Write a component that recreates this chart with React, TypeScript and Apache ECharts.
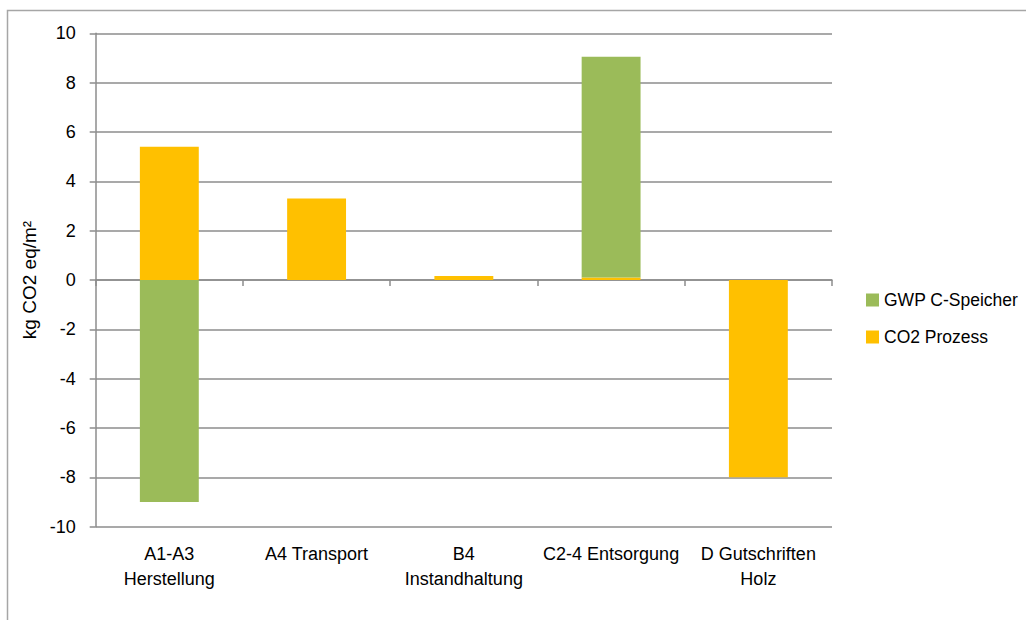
import React, { useEffect, useRef } from "react";
import * as echarts from "echarts";

const categories = [
  "A1-A3\nHerstellung",
  "A4 Transport",
  "B4\nInstandhaltung",
  "C2-4 Entsorgung",
  "D Gutschriften\nHolz",
];
const co2Prozess = [5.4, 3.3, 0.16, 0.1, -8.0];
const gwpCSpeicher = [-9.0, 0, 0, 8.95, 0];
const seriesNames = ["GWP C-Speicher", "CO2 Prozess"];
const yMin = -10;
const yMax = 10;
const yInterval = 2;

const FONT = "'Liberation Sans', Arial, sans-serif";
const GRID_COLOR = "#8c8c8c";

export default function App() {
  const ref = useRef<HTMLDivElement>(null);
  useEffect(() => {
    document.body.style.margin = "0";
    if (!ref.current) return;
    const chart = echarts.init(ref.current, null, { renderer: "svg" });
    chart.setOption({
      animation: false,
      backgroundColor: "#ffffff",
      textStyle: { fontFamily: FONT },
      graphic: [
        {
          type: "rect",
          shape: { x: 7.5, y: 10.5, width: 1040, height: 640 },
          style: { fill: "none", stroke: "#a6a6a6", lineWidth: 1.5 },
          silent: true,
          z: -10,
        },
      ],
      grid: { left: 95.7, right: 194, top: 33.3, bottom: 93.3, containLabel: false },
      legend: {
        data: seriesNames,
        orient: "vertical",
        left: 861,
        top: 286,
        itemWidth: 13,
        itemHeight: 13,
        itemGap: 19,
        icon: "rect",
        textStyle: { fontFamily: FONT, fontSize: 17.5, color: "#000" },
      },
      xAxis: [
        {
          type: "category",
          data: categories,
          position: "bottom",
          axisLine: { show: false, onZero: false },
          axisTick: { show: false },
          splitLine: { show: false },
          axisLabel: {
            interval: 0,
            margin: 15,
            fontFamily: FONT,
            fontSize: 18,
            lineHeight: 25,
            color: "#000",
            align: "center",
          },
        },
        {
          type: "category",
          data: categories,
          position: "bottom",
          axisLine: { show: true, onZero: true, lineStyle: { color: GRID_COLOR, width: 1.5 } },
          axisTick: { show: true, length: 6, lineStyle: { color: GRID_COLOR, width: 1.5 } },
          axisLabel: { show: false },
          splitLine: { show: false },
        },
      ],
      yAxis: {
        type: "value",
        min: yMin,
        max: yMax,
        interval: yInterval,
        name: "kg CO2 eq/m²",
        nameLocation: "middle",
        nameRotate: 90,
        nameGap: 50,
        nameTextStyle: { fontFamily: FONT, fontSize: 19, color: "#000" },
        axisLine: { show: true, lineStyle: { color: GRID_COLOR, width: 1.5 } },
        axisTick: { show: true, length: 6, lineStyle: { color: GRID_COLOR, width: 1.5 } },
        splitLine: { show: true, lineStyle: { color: GRID_COLOR, width: 1.5 } },
        axisLabel: { margin: 20, fontFamily: FONT, fontSize: 18, color: "#000" },
      },
      series: [
        {
          name: "CO2 Prozess",
          type: "bar",
          stack: "total",
          xAxisIndex: 0,
          data: co2Prozess,
          barCategoryGap: "60%",
          itemStyle: { color: "#FFC000" },
          z: 3,
        },
        {
          name: "GWP C-Speicher",
          type: "bar",
          stack: "total",
          xAxisIndex: 0,
          data: gwpCSpeicher,
          barCategoryGap: "60%",
          itemStyle: { color: "#9BBB59" },
          z: 3,
        },
      ],
    });
    return () => chart.dispose();
  }, []);
  return <div ref={ref} style={{ width: 1026, height: 620 }} />;
}
